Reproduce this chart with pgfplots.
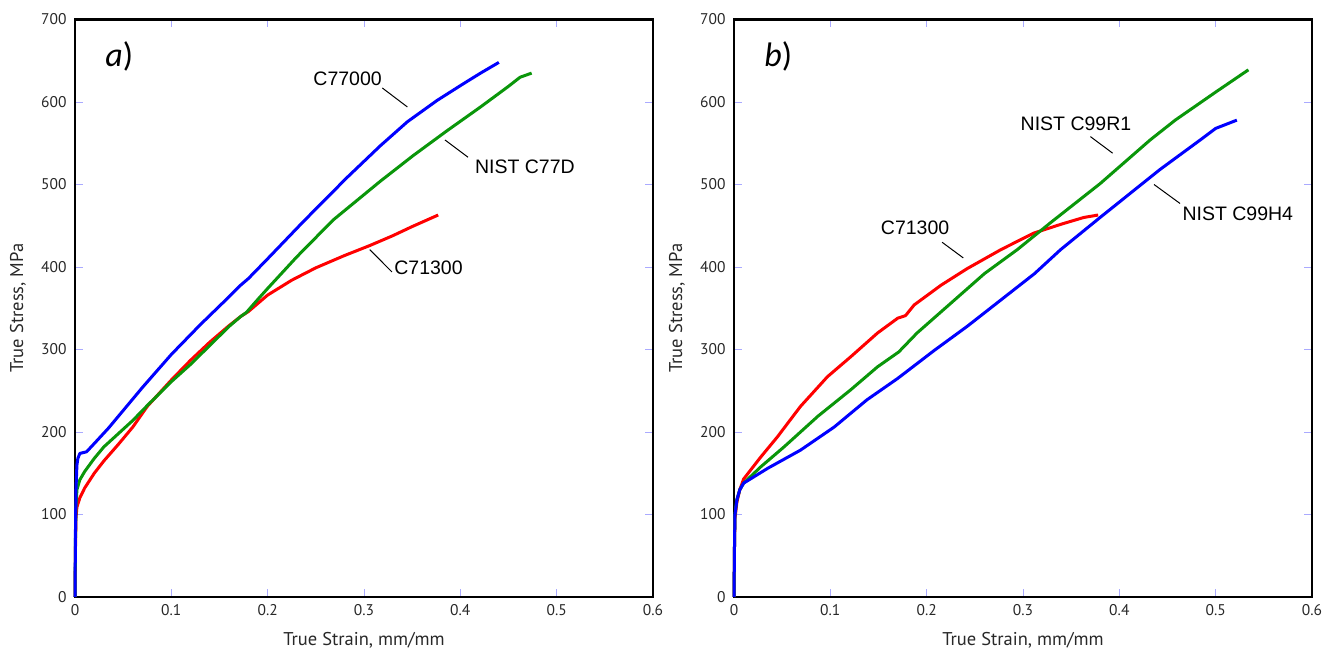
\documentclass[border=0pt]{standalone}
\usepackage{pgfplots}
\pgfplotsset{compat=1.18}
\usepackage{fontspec}
\setmainfont{PT Sans}
\newfontfamily\arialf{Liberation Sans}
\newfontfamily\calib{Carlito}
\definecolor{tickblue}{RGB}{170,170,255}
\definecolor{cblue}{RGB}{0,0,255}
\definecolor{cgreen}{RGB}{10,150,10}
\definecolor{cred}{RGB}{255,0,0}
\definecolor{lblgray}{RGB}{40,40,40}
\pgfplotsset{myax/.style={
  scale only axis, width=578pt, height=577.5pt,
  xmin=0, xmax=0.6, ymin=0, ymax=700,
  xtick={0,0.1,0.2,0.3,0.4,0.5,0.6},
  xticklabels={0,0.1,0.2,0.3,0.4,0.5,0.6},
  ytick={0,100,200,300,400,500,600,700},
  yticklabels={0,100,200,300,400,500,600,700},
  tick align=inside, major tick length=8pt,
  tick style={color=tickblue, line width=0.9pt},
  axis line style={line width=2.8pt, black},
  every tick label/.append style={font=\fontsize{15.5}{17}\selectfont, text=lblgray},
  xticklabel style={yshift=-4pt},
  yticklabel style={xshift=-5pt},
  xlabel={True Strain, mm/mm}, ylabel={True Stress, MPa},
  label style={font=\fontsize{18.5}{20}\selectfont, text=lblgray},
  xlabel style={at={(axis description cs:0.5,-0.0745)}, anchor=center},
  ylabel style={at={(axis description cs:-0.0986,0.5)}, anchor=center},
  clip=false,
  every axis plot/.append style={line width=3pt, line join=round, mark=none},
}}
\begin{document}
\begin{tikzpicture}[x=1pt,y=1pt]
\useasboundingbox (-75,-63) rectangle (1261,597);
\begin{axis}[myax]
\addplot[cred] coordinates {(0,0)(0.0005,60)(0.001,95)(0.002,109)(0.005,120)(0.01,132)(0.02,150)(0.03,165)(0.045,185)(0.06,206)(0.075,231)(0.1,263)(0.12,287)(0.14,309)(0.16,329)(0.172,340)(0.18,346)(0.2,366)(0.225,384)(0.25,399)(0.28,414)(0.306,426)(0.33,438)(0.35,449)(0.377,463)};
\addplot[cgreen] coordinates {(0,0)(0.0005,70)(0.001,110)(0.002,130)(0.005,142)(0.01,152)(0.02,168)(0.03,182)(0.045,198)(0.06,214)(0.075,232)(0.1,261)(0.12,282)(0.14,305)(0.16,328)(0.172,340)(0.178,345)(0.19,361)(0.2,374)(0.23,412)(0.268,457)(0.317,504)(0.351,535)(0.386,565)(0.421,594)(0.45,619)(0.462,630)(0.474,635)};
\addplot[cblue] coordinates {(0,0)(0.0005,80)(0.001,130)(0.002,160)(0.003,168)(0.005,174)(0.012,176)(0.02,186)(0.035,205)(0.05,226)(0.07,254)(0.1,294)(0.13,330)(0.16,364)(0.172,378)(0.18,386)(0.2,410)(0.237,455)(0.282,508)(0.317,547)(0.345,576)(0.376,602)(0.403,622)(0.421,635)(0.440,648)};
\node[font=\calib\fontsize{34}{36}\selectfont] at (axis cs:0.046,655) {\textit{a})};
\node[font=\arialf\fontsize{19.5}{21}\selectfont] at (axis cs:0.283,628) {C77000};
\draw[line width=1pt] (axis cs:0.319,617) -- (axis cs:0.345,594);
\node[font=\arialf\fontsize{19.5}{21}\selectfont] at (axis cs:0.467,521) {NIST C77D};
\draw[line width=1pt] (axis cs:0.384,554) -- (axis cs:0.408,533);
\node[font=\arialf\fontsize{19.5}{21}\selectfont] at (axis cs:0.367,399) {C71300};
\draw[line width=1pt] (axis cs:0.306,421) -- (axis cs:0.329,394);
\end{axis}
\begin{axis}[myax, xshift=659pt]
\addplot[cred] coordinates {(0,0)(0.0005,60)(0.001,95)(0.003,115)(0.006,130)(0.010,143)(0.02,158)(0.028,170)(0.045,194)(0.069,231)(0.097,267)(0.121,291)(0.149,320)(0.17,338)(0.178,341)(0.187,354)(0.215,378)(0.242,398)(0.277,421)(0.311,441)(0.34,452)(0.363,460)(0.378,463)};
\addplot[cgreen] coordinates {(0,0)(0.0005,60)(0.001,100)(0.003,118)(0.006,130)(0.010,138)(0.028,158)(0.052,182)(0.087,219)(0.121,251)(0.149,279)(0.171,297)(0.19,320)(0.225,356)(0.26,392)(0.294,421)(0.33,455)(0.38,501)(0.432,554)(0.458,578)(0.5,612)(0.534,639)};
\addplot[cblue] coordinates {(0,0)(0.0005,60)(0.001,100)(0.003,118)(0.006,130)(0.010,138)(0.035,156)(0.069,178)(0.104,206)(0.138,239)(0.17,265)(0.208,299)(0.242,328)(0.277,360)(0.312,392)(0.339,421)(0.38,460)(0.442,518)(0.484,554)(0.5,568)(0.522,578)};
\node[font=\calib\fontsize{34}{36}\selectfont] at (axis cs:0.046,655) {\textit{b})};
\node[font=\arialf\fontsize{19.5}{21}\selectfont] at (axis cs:0.355,573) {NIST C99R1};
\draw[line width=1pt] (axis cs:0.370,558) -- (axis cs:0.393,538);
\node[font=\arialf\fontsize{19.5}{21}\selectfont] at (axis cs:0.523,465) {NIST C99H4};
\draw[line width=1pt] (axis cs:0.436,500) -- (axis cs:0.463,477);
\node[font=\arialf\fontsize{19.5}{21}\selectfont] at (axis cs:0.188,447) {C71300};
\draw[line width=1pt] (axis cs:0.216,430) -- (axis cs:0.238,411);
\end{axis}
\end{tikzpicture}
\end{document}
